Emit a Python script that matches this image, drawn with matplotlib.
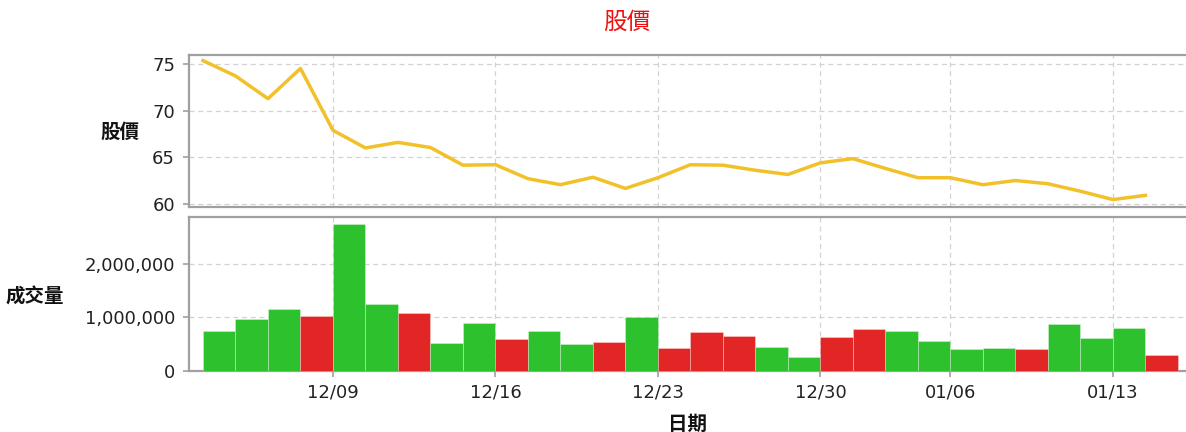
import matplotlib
matplotlib.use("Agg")
import matplotlib.pyplot as plt
from matplotlib.ticker import FuncFormatter, FixedLocator

plt.rcParams['font.family'] = ['DejaVu Sans', 'Noto Sans CJK TC']
CJK = ['Noto Sans CJK TC', 'DejaVu Sans']

dates = ["12/03", "12/04", "12/05", "12/06", "12/09", "12/10", "12/11", "12/12", "12/13",
         "12/16", "12/17", "12/18", "12/19", "12/20", "12/23", "12/24", "12/25", "12/26",
         "12/27", "12/30", "12/31", "01/02", "01/03", "01/06", "01/07", "01/08", "01/09",
         "01/10", "01/13", "01/14"]
price = [75.4, 73.75, 71.3, 74.55, 67.9, 66.0, 66.6, 66.05, 64.15, 64.2, 62.7, 62.05,
         62.85, 61.65, 62.8, 64.2, 64.15, 63.6, 63.15, 64.4, 64.85, 63.8, 62.8, 62.8,
         62.05, 62.5, 62.15, 61.35, 60.45, 60.9]
volume = [745000, 964000, 1150000, 1026000, 2746000, 1245000, 1088000, 514000, 900000,
          589000, 750000, 495000, 533000, 1013000, 420000, 720000, 645000, 439000, 250000,
          627000, 777000, 750000, 563000, 400000, 430000, 400000, 870000, 608000, 795000,
          295000]
updown = ["d", "d", "d", "u", "d", "d", "u", "d", "d", "u", "d", "d", "u", "d", "u",
          "u", "u", "d", "d", "u", "u", "d", "d", "d", "d", "u", "d", "d", "d", "u"]
tick_dates = ["12/09", "12/16", "12/23", "12/30", "01/06", "01/13"]

GREEN = "#2ec12e"
RED = "#e22626"
GOLD = "#f2c12a"
GRID = "#d2d2d2"
SPINE = "#a0a0a0"

fig = plt.figure(figsize=(11.86, 4.32), dpi=100)
ax1 = fig.add_axes([189/1186, 1-207/432, 1-189/1186, (207-55)/432])
ax2 = fig.add_axes([189/1186, 1-370.7/432, 1-189/1186, (370.7-216.7)/432])

x = list(range(len(dates)))
tick_pos = [dates.index(d) for d in tick_dates]

ax1.plot(x, price, color=GOLD, lw=2.5, solid_joinstyle='round', zorder=3)
colors = [RED if u == "u" else GREEN for u in updown]
ax2.bar(x, volume, width=1.0, align='edge', color=colors, edgecolor=(1, 1, 1, 0.35),
        linewidth=0.6, zorder=3)

xlim = (-0.43, 30.25)
for ax in (ax1, ax2):
    ax.set_xlim(*xlim)
    ax.xaxis.set_major_locator(FixedLocator(tick_pos))
    ax.grid(True, color=GRID, linestyle=(0, (4, 3)), linewidth=0.9, zorder=0)
    ax.spines['right'].set_visible(False)
    for s in ('left', 'top', 'bottom'):
        ax.spines[s].set_color(SPINE)
        ax.spines[s].set_linewidth(1.6)
    ax.tick_params(axis='both', colors=SPINE, labelcolor='#222222', labelsize=13,
                   length=4, width=1.2)
    ax.tick_params(axis='y', pad=6)

ax1.set_ylim(59.65, 76.0)
ax1.set_yticks([60, 65, 70, 75])
ax1.tick_params(axis='x', length=0, labelbottom=False)

ax2.set_ylim(0, 2890000)
ax2.set_yticks([0, 1000000, 2000000])
ax2.yaxis.set_major_formatter(FuncFormatter(lambda v, p: f"{int(v):,}"))
ax2.set_xticklabels(tick_dates)
ax2.tick_params(axis='x', pad=5)

ax1.set_ylabel("股價", rotation=0, fontsize=14, fontweight='bold', color='#111111',
               family=CJK, va='center', ha='center')
ax1.yaxis.set_label_coords(-0.069, 0.493)
ax2.set_ylabel("成交量", rotation=0, fontsize=14, fontweight='bold', color='#111111',
               family=CJK, va='center', ha='center')
ax2.yaxis.set_label_coords(-0.1545, 0.478)
ax2.set_xlabel("日期", fontsize=14, fontweight='bold', color='#111111', family=CJK,
               labelpad=10)

fig.text(627/1186, 1-22/432, "股價", color="#f01010", fontsize=17, family=CJK,
         ha='center', va='center')

fig.savefig("out.png", dpi=100)
